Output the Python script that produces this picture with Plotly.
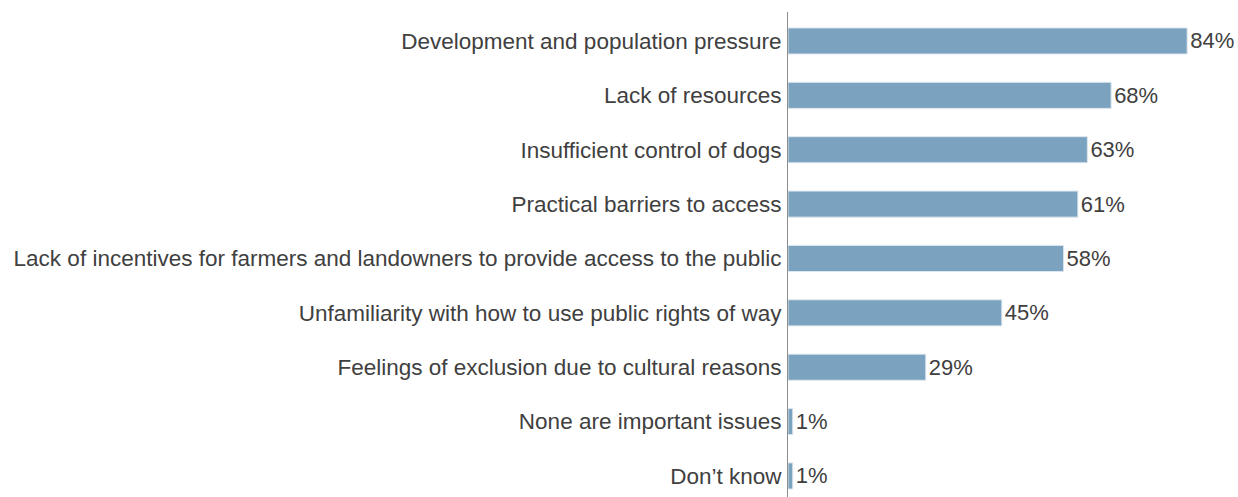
import plotly.graph_objects as go

categories = [
    "Development and population pressure",
    "Lack of resources",
    "Insufficient control of dogs",
    "Practical barriers to access",
    "Lack of incentives for farmers and landowners to provide access to the public",
    "Unfamiliarity with how to use public rights of way",
    "Feelings of exclusion due to cultural reasons",
    "None are important issues",
    "Don\u2019t know",
]
values = [84, 68, 63, 61, 58, 45, 29, 1, 1]
labels = [f"{v}%" for v in values]

FONT = "Liberation Sans, Arial, sans-serif"

fig = go.Figure(go.Bar(
    y=categories,
    x=values,
    orientation="h",
    text=labels,
    textposition="outside",
    cliponaxis=False,
    textfont=dict(family=FONT, size=22, color="#404040"),
    marker=dict(color="#7ba2bf", line=dict(color="#dde7ef", width=1)),
    width=0.48,
    hoverinfo="skip",
))

fig.update_layout(
    width=1238, height=497,
    margin=dict(l=788, r=0, t=12, b=0),
    paper_bgcolor="white", plot_bgcolor="white",
    showlegend=False,
    font=dict(family=FONT, size=22.5, color="#404040"),
    xaxis=dict(range=[0, 94.7], visible=False, fixedrange=True),
    yaxis=dict(
        categoryorder="array", categoryarray=categories,
        range=[8.387, -0.533],
        showline=True, linecolor="#8c8c8c", linewidth=1,
        showgrid=False, zeroline=False, fixedrange=True,
        ticks="outside", ticklen=1, tickcolor="rgba(0,0,0,0)",
        tickfont=dict(family=FONT, size=22.5, color="#404040"),
        automargin=False,
    ),
)

fig.write_html(
    "out.html",
    config={"displayModeBar": False, "staticPlot": True},
    post_script="document.body.style.margin='0';document.body.style.overflow='hidden';",
)
